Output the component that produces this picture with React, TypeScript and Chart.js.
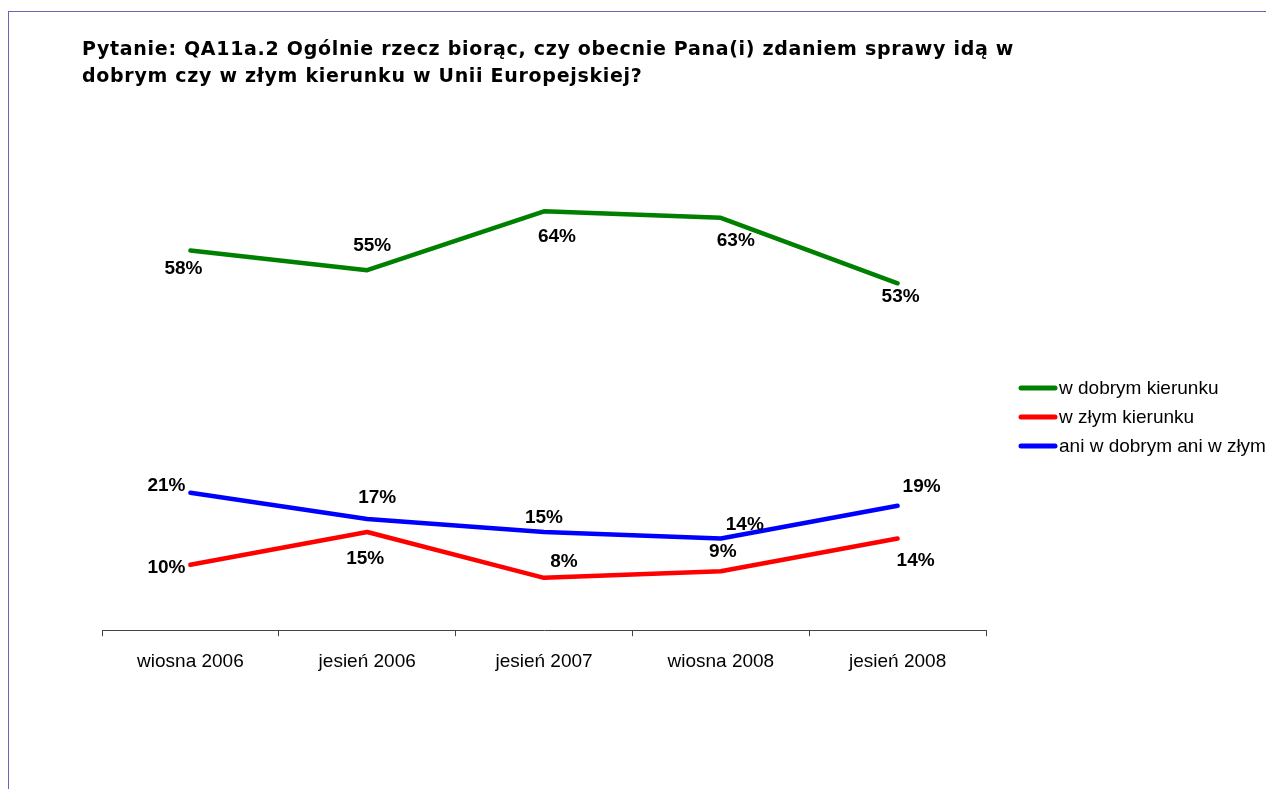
import React, { useEffect, useRef } from "react";
import { Chart, registerables } from "chart.js";

Chart.register(...registerables);

const categories = ["wiosna 2006", "jesień 2006", "jesień 2007", "wiosna 2008", "jesień 2008"];
const seriesNames = ["w dobrym kierunku", "w złym kierunku", "ani w dobrym ani w złym kierunku"];
const goodDirection = [58, 55, 64, 63, 53];
const badDirection = [10, 15, 8, 9, 14];
const neither = [21, 17, 15, 14, 19];
const seriesColors = ["#008000", "#ff0000", "#0000ff"];

const title1 = "Pytanie: QA11a.2 Ogólnie rzecz biorąc, czy obecnie Pana(i) zdaniem sprawy idą w";
const title2 = "dobrym czy w złym kierunku w Unii Europejskiej?";

// label placement relative to each point (pixels)
const labelOffsets = [
  [[-7, 17], [5, -25], [13, 24], [15, 22], [3, 12]],
  [[-24, 2], [-2, 26], [20, -17], [2, -21], [18, 21]],
  [[-24, -8], [10, -22], [0, -15], [24, -15], [24, -20]],
];

const labelPlugin = {
  id: "customLabels",
  afterDatasetsDraw(chart: any) {
    const ctx = chart.ctx;
    ctx.save();
    ctx.font = "bold 19px 'Liberation Sans', Arial, sans-serif";
    ctx.fillStyle = "#000";
    ctx.textAlign = "center";
    ctx.textBaseline = "middle";
    chart.data.datasets.forEach((ds: any, di: number) => {
      const meta = chart.getDatasetMeta(di);
      meta.data.forEach((pt: any, i: number) => {
        const off = labelOffsets[di][i];
        ctx.fillText(ds.data[i] + "%", pt.x + off[0], pt.y + off[1] + 1);
      });
    });
    // legend
    const lx = 1021;
    const ly = 388;
    const step = 29;
    chart.data.datasets.forEach((ds: any, di: number) => {
      const y = ly + di * step;
      ctx.strokeStyle = ds.borderColor;
      ctx.lineWidth = 5;
      ctx.lineCap = "round";
      ctx.beginPath();
      ctx.moveTo(lx, y);
      ctx.lineTo(lx + 34, y);
      ctx.stroke();
      ctx.font = "19px 'Liberation Sans', Arial, sans-serif";
      ctx.textAlign = "left";
      ctx.fillStyle = "#000";
      ctx.fillText(ds.label, lx + 38, y + 1);
    });
    ctx.restore();
  },
};

export default function App() {
  const ref = useRef<HTMLCanvasElement>(null);
  useEffect(() => {
    if (!ref.current) return;
    const chart = new Chart(ref.current, {
      type: "line",
      data: {
        labels: categories,
        datasets: [goodDirection, badDirection, neither].map((d, i) => ({
          label: seriesNames[i],
          data: d,
          borderColor: seriesColors[i],
          backgroundColor: seriesColors[i],
          borderWidth: 4.5,
          pointRadius: 0,
          tension: 0,
          borderCapStyle: "round" as const,
          borderJoinStyle: "round" as const,
        })),
      },
      options: {
        animation: false,
        responsive: false,
        maintainAspectRatio: false,
        layout: { padding: { left: 102, right: 280, top: 172, bottom: 102 } },
        plugins: { legend: { display: false }, title: { display: false }, tooltip: { enabled: false } },
        scales: {
          x: {
            type: "category",
            offset: true,
            grid: { offset: true, drawOnChartArea: false, drawTicks: true, tickLength: 6, color: "#444", lineWidth: 1 },
            border: { display: true, color: "#444", width: 1 },
            ticks: { color: "#000", padding: 14, font: { family: "'Liberation Sans', Arial, sans-serif", size: 19 }, maxRotation: 0, autoSkip: false },
          },
          y: { display: false, min: 0, max: 70 },
        },
      },
      plugins: [labelPlugin],
    });
    return () => chart.destroy();
  }, []);
  return (
    <div>
      <div
        style={{
          position: "fixed",
          left: 8,
          top: 11,
          right: 0,
          bottom: 0,
          borderLeft: "1px solid #6666b3",
          borderTop: "1px solid #6666b3",
        }}
      />
      <canvas ref={ref} width={1266} height={789} style={{ position: "fixed", left: 0, top: 0, width: 1266, height: 789 }} />
      <div
        style={{
          position: "fixed",
          left: 82,
          top: 35,
          font: "bold 19px 'DejaVu Sans', Verdana, sans-serif",
          letterSpacing: "0.7px",
          lineHeight: "27px",
          color: "#000",
          whiteSpace: "nowrap",
        }}
      >
        {title1}
        <br />
        {title2}
      </div>
    </div>
  );
}
